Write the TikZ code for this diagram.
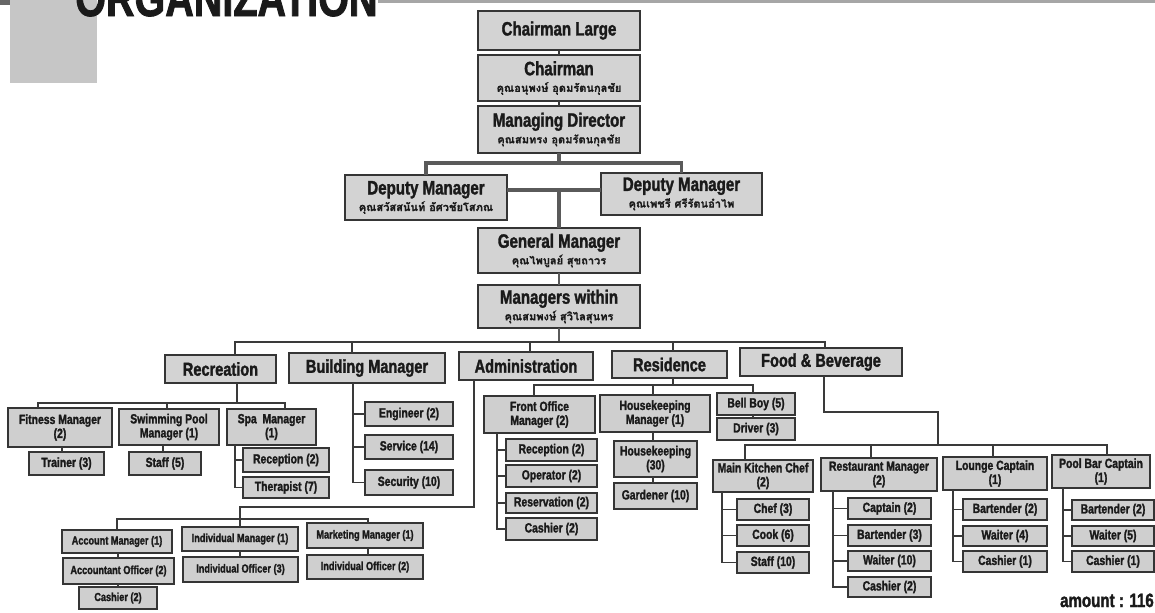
\documentclass[tikz,border=0pt]{standalone}
\usepackage{fontspec}
\newfontfamily\hv{Liberation Sans}[FakeStretch=0.78, FakeBold=1.6]
\newfontfamily\thai[Script=Thai, FakeBold=0.8]{Loma}
\definecolor{boxfill}{HTML}{D3D3D3}
\definecolor{subfill}{HTML}{CFCFCF}
\definecolor{bord}{HTML}{353535}
\definecolor{txt}{HTML}{1A1A1A}
\definecolor{conncol}{HTML}{3A3A3A}
\definecolor{thkcol}{HTML}{5A5A5A}
\newcommand\bx[7][]{\node[bx,#1,minimum width={(#5-#3)*0.75pt},minimum height={(#6-#4)*0.75pt}] (#2) at ({(#3+#5)/2},{(#4+#6)/2}) {#7};}
\newcommand\thname[1]{{\thai\bfseries\fontsize{8.3}{9}\selectfont #1}}
\tikzset{
  bx/.style={draw=bord, fill=subfill, line width=0.9pt, inner sep=0pt, outer sep=0pt, align=center, text=txt,
    font=\hv\bfseries\fontsize{10}{10.5}\selectfont},
  topbox/.style={fill=boxfill, line width=1.3pt, font=\hv\bfseries\fontsize{14.5}{12.5}\selectfont},
  dept/.style={fill=boxfill, line width=1.1pt, font=\hv\bfseries\fontsize{14}{14}\selectfont},
  small/.style={font=\hv\bfseries\fontsize{8.8}{9.5}\selectfont},
  conn/.style={draw=conncol, line width=0.9pt},
  thk/.style={draw=thkcol, line width=2.4pt},
  med/.style={draw=thkcol, line width=1.8pt}
}
\begin{document}
\begin{tikzpicture}[x=0.75pt,y=-0.75pt]
\useasboundingbox (0,0) rectangle (1155,612);
\fill[white] (0,0) rectangle (1155,612);
% header decoration
\fill[gray!45] (10,0) rectangle (97,83);
\fill[gray!80!black] (0,0) rectangle (10,5);
\fill[gray!70] (378,0) rectangle (1155,2.5);
\node[anchor=base west, inner sep=0pt, text=txt, font=\hv\bfseries\fontsize{38}{38}\selectfont] (title) at (75,16) {ORGANIZATION};

% top column
\bx[topbox]{cl}{478}{11}{640}{50}{Chairman Large}
\bx[topbox]{ch}{478}{55}{640}{101}{Chairman\\\thname{คุณอนุพงษ์ อุดมรัตนกุลชัย}}
\bx[topbox]{md}{478}{106}{640}{153}{Managing Director\\\thname{คุณสมทรง อุดมรัตนกุลชัย}}
\bx[topbox]{dl}{345}{175}{507}{220}{Deputy Manager\\\thname{คุณสวัสสนันท์ อัศวชัยโสภณ}}
\bx[topbox]{dr}{601}{173}{762}{215}{Deputy Manager\\\thname{คุณเพชรี ศรีรัตนอำไพ}}
\bx[topbox]{gm}{478}{228}{640}{273}{General Manager\\\thname{คุณไพบูลย์ สุขถาวร}}
\bx[topbox]{mw}{478}{285}{640}{328}{Managers within\\\thname{คุณสมพงษ์ สุวิไลสุนทร}}

% departments
\bx[dept]{rec}{165}{355}{276}{383}{Recreation}
\bx[dept]{bm}{289}{353}{445}{383}{Building Manager}
\bx[dept]{adm}{459}{352}{593}{380}{Administration}
\bx[dept]{res}{612}{351}{727}{378}{Residence}
\bx[dept]{fb}{740}{348}{902}{376}{Food \& Beverage}

% recreation
\bx{fit}{8}{408}{112}{447}{Fitness Manager\\(2)}
\bx{swim}{119}{409}{219}{445}{Swimming Pool\\Manager (1)}
\bx{spa}{227}{409}{316}{445}{Spa \ Manager\\(1)}
\bx{trn}{29}{452}{104}{475}{Trainer (3)}
\bx{stf}{129}{452}{201}{475}{Staff (5)}
\bx{srec}{243}{448}{329}{472}{Reception (2)}
\bx{ther}{243}{477}{329}{498}{Therapist (7)}

% building
\bx{eng}{365}{402}{453}{426}{Engineer (2)}
\bx{srv}{365}{435}{453}{459}{Service (14)}
\bx{sec}{365}{470}{453}{495}{Security (10)}

% administration
\bx[small]{accm}{62}{530}{172}{553}{Account Manager (1)}
\bx[small]{acco}{63}{558}{174}{584}{Accountant Officer (2)}
\bx[small]{acash}{79}{587}{157}{609}{Cashier (2)}
\bx[small]{indm}{182}{527}{298}{551}{Individual Manager (1)}
\bx[small]{indo}{183}{557}{298}{582}{Individual Officer (3)}
\bx[small]{mkt}{307}{523}{423}{548}{Marketing Manager (1)}
\bx[small]{mkto}{307}{555}{423}{579}{Individual Officer (2)}

% residence
\bx{fo}{484}{396}{595}{433}{Front Office\\Manager (2)}
\bx{hkm}{600}{395}{710}{432}{Housekeeping\\Manager (1)}
\bx{bell}{717}{393}{795}{415}{Bell Boy (5)}
\bx{drv}{717}{418}{795}{440}{Driver (3)}
\bx{rcp}{506}{439}{597}{461}{Reception (2)}
\bx{opr}{506}{465}{597}{487}{Operator (2)}
\bx{rsv}{506}{493}{597}{513}{Reservation (2)}
\bx{fcash}{506}{518}{597}{540}{Cashier (2)}
\bx{hk}{614}{441}{697}{477}{Housekeeping\\(30)}
\bx{gard}{614}{483}{697}{509}{Gardener (10)}

% food & beverage
\bx{mk}{713}{460}{813}{492}{Main Kitchen Chef\\(2)}
\bx{rm}{821}{458}{937}{491}{Restaurant Manager\\(2)}
\bx{lc}{943}{457}{1047}{490}{Lounge Captain\\(1)}
\bx{pb}{1052}{455}{1150}{488}{Pool Bar Captain\\(1)}
\bx{chef}{737}{499}{809}{520}{Chef (3)}
\bx{cook}{737}{525}{809}{546}{Cook (6)}
\bx{mstf}{737}{552}{809}{573}{Staff (10)}
\bx{cap}{848}{498}{931}{519}{Captain (2)}
\bx{rbar}{848}{525}{931}{546}{Bartender (3)}
\bx{rwait}{848}{551}{931}{571}{Waiter (10)}
\bx{rcash}{848}{577}{931}{597}{Cashier (2)}
\bx{lbar}{963}{499}{1047}{520}{Bartender (2)}
\bx{lwait}{963}{526}{1047}{546}{Waiter (4)}
\bx{lcash}{963}{551}{1047}{572}{Cashier (1)}
\bx{pbar}{1072}{500}{1154}{520}{Bartender (2)}
\bx{pwait}{1072}{526}{1154}{546}{Waiter (5)}
\bx{pcash}{1072}{551}{1154}{572}{Cashier (1)}

\node[anchor=base east, inner sep=0pt, text=txt, font=\hv\bfseries\fontsize{14.5}{15}\selectfont] (amount) at (1154,607) {amount : 116};

% ---------- connectors ----------
\coordinate (j1) at (559,163);
\coordinate (j2) at (559,190);
\coordinate (j3) at (559,342);
\draw[conn, line width=1.5pt] (cl) -- (ch);
\draw[conn, line width=1.5pt] (ch) -- (md);
\draw[thk] (md) -- (j1);
\draw[thk] (dl.north) |- (j1) -| (dr.north);
\draw[thk] (dl.east |- j2) -- (dr.west |- j2);
\draw[thk] (j2) -- (gm);
\draw[med] (gm) -- (mw);
\draw[med] (mw) -- (j3);

\coordinate (d1) at (235,342);
\coordinate (d2) at (352,342);
\coordinate (d3) at (530,342);
\coordinate (d4) at (673,342);
\coordinate (d5) at (825,342);
\draw[conn] (d1 |- rec.north) -- (d1) -- (d5) -- (d5 |- fb.north);
\draw[conn] (d2) -- (d2 |- bm.north);
\draw[conn] (d3) -- (d3 |- adm.north);
\draw[conn] (d4) -- (d4 |- res.north);

% recreation connectors
\coordinate (r0) at (237,403);
\coordinate (r1) at (38,403);
\coordinate (r2) at (167,403);
\coordinate (r3) at (285,403);
\draw[conn] (r0 |- rec.south) -- (r0);
\draw[conn] (r1 |- fit.north) -- (r1) -- (r3) -- (r3 |- spa.north);
\draw[conn] (r2) -- (r2 |- swim.north);
\coordinate (ft) at (62,0);
\coordinate (st) at (163,0);
\coordinate (sp) at (235,0);
\draw[conn] (fit.south -| ft) -- (trn.north -| ft);
\draw[conn] (swim.south -| st) -- (stf.north -| st);
\draw[conn] (spa.south -| sp) |- (srec.west);
\draw[conn] (spa.south -| sp) |- (ther.west);

% building connectors
\coordinate (bs) at (353,0);
\draw[conn] (bm.south -| bs) |- (eng.west);
\draw[conn] (bm.south -| bs) |- (srv.west);
\draw[conn] (bm.south -| bs) |- (sec.west);

% administration connectors
\coordinate (as) at (474,0);
\coordinate (a1) at (474,507);
\coordinate (a2) at (240,507);
\coordinate (a3) at (240,519);
\coordinate (ab1) at (117,519);
\coordinate (ab3) at (368,519);
\draw[conn] (adm.south -| as) -- (a1) -- (a2) -- (a3);
\draw[conn] (ab1 |- accm.north) -- (ab1) -- (ab3) -- (ab3 |- mkt.north);
\draw[conn] (a3) -- (a3 |- indm.north);
\coordinate (ac) at (118,0);
\draw[conn] (accm.south -| ac) -- (acco.north -| ac);
\draw[conn] (acco.south -| ac) -- (acash.north -| ac);
\draw[conn] (indm.south -| a3) -- (indo.north -| a3);
\draw[conn] (mkt.south -| ab3) -- (mkto.north -| ab3);

% residence connectors
\coordinate (rs0) at (673,385);
\coordinate (rs1) at (534,385);
\coordinate (rs2) at (653,385);
\coordinate (rs3) at (753,385);
\draw[conn] (res.south -| rs0) -- (rs0);
\draw[conn] (rs1 |- fo.north) -- (rs1) -- (rs3) -- (rs3 |- bell.north);
\draw[conn] (rs2) -- (rs2 |- hkm.north);
\draw[conn] (bell.south -| rs3) -- (drv.north -| rs3);
\coordinate (fs) at (497,0);
\draw[conn] (fo.south -| fs) |- (rcp.west);
\draw[conn] (fo.south -| fs) |- (opr.west);
\draw[conn] (fo.south -| fs) |- (rsv.west);
\draw[conn] (fo.south -| fs) |- (fcash.west);
\draw[conn] (hkm.south -| rs2) -- (hk.north -| rs2);
\draw[conn] (hk.south -| rs2) -- (gard.north -| rs2);

% food & beverage connectors
\coordinate (f0) at (824,412);
\coordinate (f1) at (938,412);
\coordinate (f2) at (938,445);
\coordinate (fb1) at (745,445);
\coordinate (fb2) at (871,445);
\coordinate (fb3) at (993,445);
\coordinate (fb4) at (1107,445);
\draw[conn] (fb.south -| f0) -- (f0) -- (f1) -- (f2);
\draw[conn] (fb1 |- mk.north) -- (fb1) -- (fb4) -- (fb4 |- pb.north);
\draw[conn] (fb2) -- (fb2 |- rm.north);
\draw[conn] (fb3) -- (fb3 |- lc.north);
\coordinate (ms) at (722,0);
\coordinate (rms) at (833,0);
\coordinate (ls) at (953,0);
\coordinate (ps) at (1063,0);
\draw[conn] (mk.south -| ms) |- (chef.west);
\draw[conn] (mk.south -| ms) |- (cook.west);
\draw[conn] (mk.south -| ms) |- (mstf.west);
\draw[conn] (rm.south -| rms) |- (cap.west);
\draw[conn] (rm.south -| rms) |- (rbar.west);
\draw[conn] (rm.south -| rms) |- (rwait.west);
\draw[conn] (rm.south -| rms) |- (rcash.west);
\draw[conn] (lc.south -| ls) |- (lbar.west);
\draw[conn] (lc.south -| ls) |- (lwait.west);
\draw[conn] (lc.south -| ls) |- (lcash.west);
\draw[conn] (pb.south -| ps) |- (pbar.west);
\draw[conn] (pb.south -| ps) |- (pwait.west);
\draw[conn] (pb.south -| ps) |- (pcash.west);
\end{tikzpicture}
\end{document}
